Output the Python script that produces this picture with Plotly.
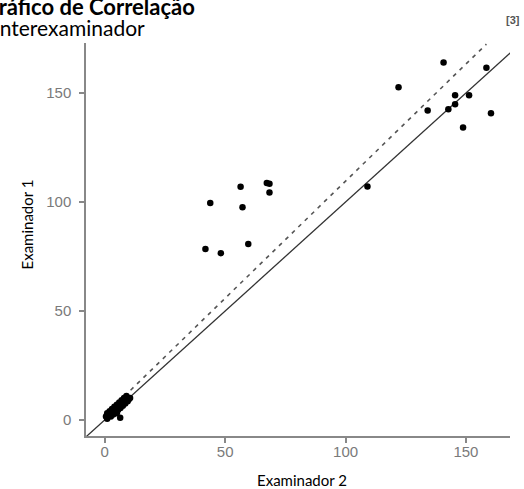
import plotly.graph_objects as go

# Main (scattered) observations: Examinador 2 (x) vs Examinador 1 (y)
exam2_main = [41.8, 48.2, 59.6, 43.8, 56.4, 57.2, 67.3, 68.4, 68.4, 109.1,
              122.0, 140.7, 158.5, 134.1, 142.7, 145.5, 145.5, 151.3, 148.8, 160.4]
exam1_main = [78.4, 76.5, 80.7, 99.6, 107.0, 97.6, 108.7, 108.4, 104.4, 107.1,
              152.7, 164.1, 161.6, 142.0, 142.6, 149.0, 144.9, 149.0, 134.2, 140.8]

# Dense cluster of low values near the origin
exam2_low = [0.5, 1, 1, 1.5, 2, 2.5, 2.5, 3, 3.5, 3.5, 4, 4.5, 4.5, 5, 5.5, 5.5,
             6, 6.5, 6.5, 7, 7.5, 7.5, 8, 8.5, 8.5, 9, 9.5, 9.5, 10, 10.5, 6.4, 5]
exam1_low = [1.5, 3, 0.5, 2, 4, 1.5, 3, 5, 2.5, 4, 6, 3.5, 5, 7, 4.5, 6,
             8, 5.5, 7, 9, 6.5, 8, 10, 7.5, 9, 11, 8.5, 10, 9.5, 10, 1.0, 3]

# Identity line (y = x) and fitted regression line
identity_x = [-8, 170]
reg_intercept = 2.1
reg_slope = 1.075
reg_x = [0, 158.5]
reg_y = [reg_intercept + reg_slope * v for v in reg_x]

tick_vals = [0, 50, 100, 150]
tick_text = ["0", "50", "100", "150"]

fig = go.Figure()
fig.add_trace(go.Scatter(x=identity_x, y=identity_x, mode="lines",
                         line=dict(color="#333333", width=1.3), hoverinfo="skip"))
fig.add_trace(go.Scatter(x=reg_x, y=reg_y, mode="lines",
                         line=dict(color="#555555", width=1.6, dash="4px,5px"), hoverinfo="skip"))
fig.add_trace(go.Scatter(x=exam2_low, y=exam1_low, mode="markers",
                         marker=dict(color="black", size=6.5)))
fig.add_trace(go.Scatter(x=exam2_main, y=exam1_main, mode="markers",
                         marker=dict(color="black", size=6.5)))

axis_common = dict(showgrid=False, zeroline=False, showline=True, linecolor="#888888",
                   linewidth=1.5, ticks="outside", ticklen=5, tickwidth=1.5,
                   tickcolor="#888888", tickvals=tick_vals, ticktext=tick_text,
                   tickfont=dict(family="Liberation Sans", size=15, color="#7a7a7a"))

fig.update_layout(
    width=524, height=489,
    margin=dict(l=86, r=14.4, t=43.2, b=52.9),
    plot_bgcolor="white", paper_bgcolor="white",
    showlegend=False,
    xaxis=dict(range=[-7.8, 168.3], ticklabelstandoff=-4, **axis_common),
    yaxis=dict(range=[-7.4, 173], ticklabelstandoff=5, **axis_common),
)

ann = []
ann.append(dict(text="<b>Gráfico de Correlação</b>", xref="paper", yref="paper", x=0, y=1,
                xanchor="left", yanchor="middle", xshift=-105, yshift=37,
                showarrow=False, font=dict(family="Lato", size=22, color="black")))
ann.append(dict(text="Interexaminador", xref="paper", yref="paper", x=0, y=1,
                xanchor="left", yanchor="middle", xshift=-94, yshift=15.5,
                showarrow=False, font=dict(family="Lato", size=21, color="black")))
ann.append(dict(text="<b>[3]</b>", xref="paper", yref="paper", x=1, y=1,
                xanchor="center", yanchor="middle", xshift=2.5, yshift=23.5,
                showarrow=False, font=dict(family="Liberation Sans", size=11, color="#555555")))
ann.append(dict(text="Examinador 2", xref="paper", yref="paper", x=0.5, y=0,
                xanchor="center", yanchor="middle", xshift=4, yshift=-44,
                showarrow=False, font=dict(family="Lato", size=15, color="black")))
ann.append(dict(text="Examinador 1", xref="paper", yref="paper", x=0, y=0.5,
                xanchor="center", yanchor="middle", xshift=-60, yshift=15, textangle=-90,
                showarrow=False, font=dict(family="Lato", size=15, color="black")))
fig.update_layout(annotations=ann)

fig.write_html("out.html", config={"displayModeBar": False},
               post_script="document.body.style.margin='0';")
